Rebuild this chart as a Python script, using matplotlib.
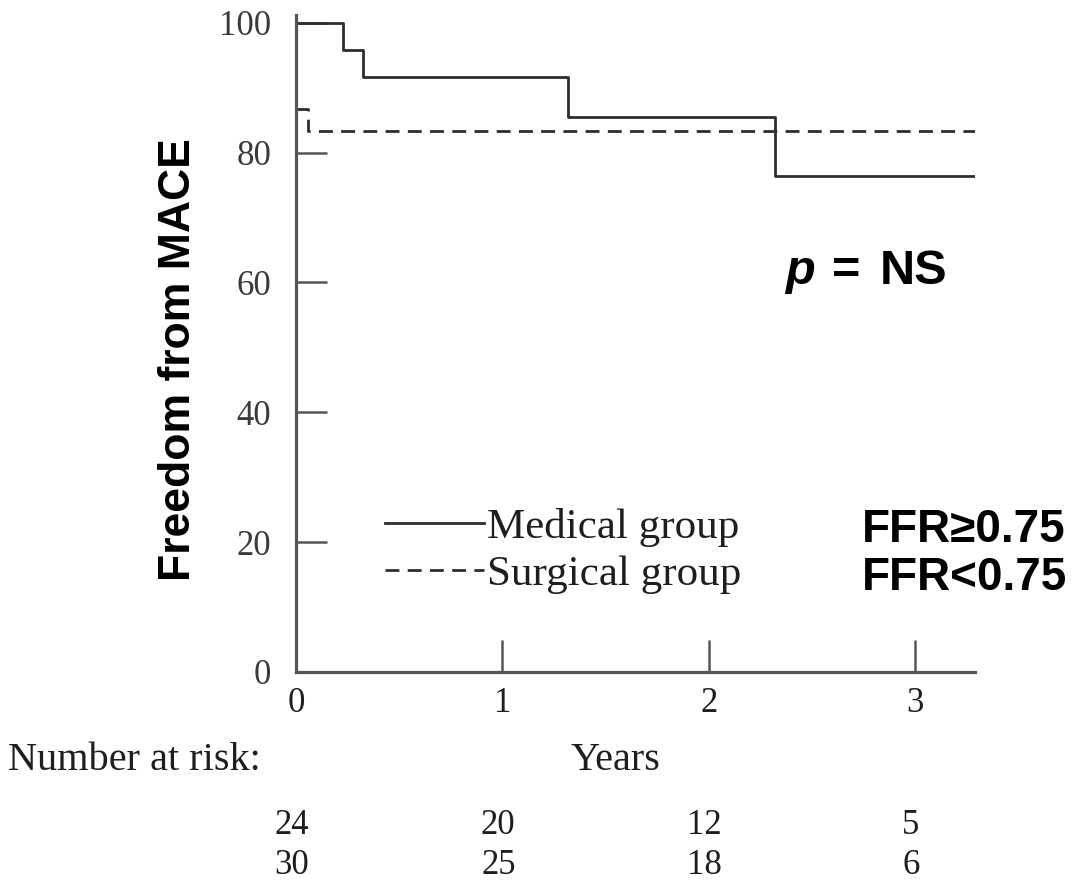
import numpy as np
from matplotlib import pyplot as plt
from matplotlib import transforms

# Kaplan-Meier steps (years, % free from MACE)
med_t = [0, 0.228, 0.324, 1.318, 2.32, 3.29]
med_s = [100, 95.8, 91.7, 85.5, 76.4, 76.4]
surg_t = [0, 0.058, 3.29]
surg_s = [86.7, 83.3, 83.3]

years = [0, 1, 2, 3]
risk_medical = [24, 20, 12, 5]
risk_surgical = [30, 25, 18, 6]
yticks = [0, 20, 40, 60, 80, 100]

serif = 'Liberation Serif'
sans = 'Liberation Sans'
ink = '#1e1e1e'

fig = plt.figure(figsize=(10.74, 8.83), dpi=100)
ax = fig.add_axes([296/1074, 1 - 672/883, (975-296)/1074, (672-15)/883])
ax.set_xlim(0, 3.29)
ax.set_ylim(0, 101.2)

ax.step(med_t, med_s, where='post', color='#2e2e2e', lw=2.0, label='Medical group')
ax.step(surg_t, surg_s, where='post', color='#2e2e2e', lw=2.0, ls=(0, (5, 3)),
        label='Surgical group')

for s in ['top', 'right']:
    ax.spines[s].set_visible(False)
for s in ['left', 'bottom']:
    ax.spines[s].set_color('#555555')
    ax.spines[s].set_linewidth(2.3)

ax.set_yticks(yticks)
ax.set_xticks(years)
ax.tick_params(axis='y', direction='in', length=22, width=1.8, color='#555555',
               pad=18, labelsize=25, labelcolor='#3a3a3a')
ax.tick_params(axis='x', direction='in', length=23, width=1.8, color='#555555',
               pad=11, labelsize=25, labelcolor=ink)
for lab in ax.get_xticklabels() + ax.get_yticklabels():
    lab.set_fontfamily(serif)

leg = ax.legend(loc='upper left', bbox_to_anchor=(385/1074, 1 - 508/883),
                bbox_transform=fig.transFigure, frameon=False,
                prop={'family': serif, 'size': 31}, handlelength=2.3,
                handletextpad=0.08, labelspacing=0.17, borderpad=0,
                borderaxespad=0)
for t in leg.get_texts():
    t.set_color(ink)

fig.text(178/1074, 1 - 360/883, 'Freedom from MACE', rotation=90, ha='center',
         va='center', family=sans, weight='bold', size=32)
fig.text(785/1074, 1 - 271/883, 'p', ha='left', va='center', family=sans,
         weight='bold', style='italic', size=35)
fig.text(832/1074, 1 - 271/883, '=', ha='left', va='center', family=sans,
         weight='bold', size=35)
fig.text(880/1074, 1 - 271/883, 'NS', ha='left', va='center', family=sans,
         weight='bold', size=35)
fig.text(862/1074, 1 - 530/883, 'FFR≥0.75', ha='left', va='center', family=sans,
         weight='bold', size=33)
fig.text(862/1074, 1 - 578/883, 'FFR<0.75', ha='left', va='center', family=sans,
         weight='bold', size=33)

fig.text(8/1074, 1 - 760/883, 'Number at risk:', ha='left', va='center',
         family=serif, size=29, color=ink)
fig.text(615/1074, 1 - 760/883, 'Years', ha='center', va='center',
         family=serif, size=29, color=ink)

trans = transforms.blended_transform_factory(ax.transData, fig.transFigure)
for x, a, b in zip(years, risk_medical, risk_surgical):
    ax.text(x - 0.02, 1 - 826/883, str(a), transform=trans, ha='center',
            va='center', family=serif, size=25, color=ink)
    ax.text(x - 0.02, 1 - 866/883, str(b), transform=trans, ha='center',
            va='center', family=serif, size=25, color=ink)

fig.savefig('out.png', dpi=100)
